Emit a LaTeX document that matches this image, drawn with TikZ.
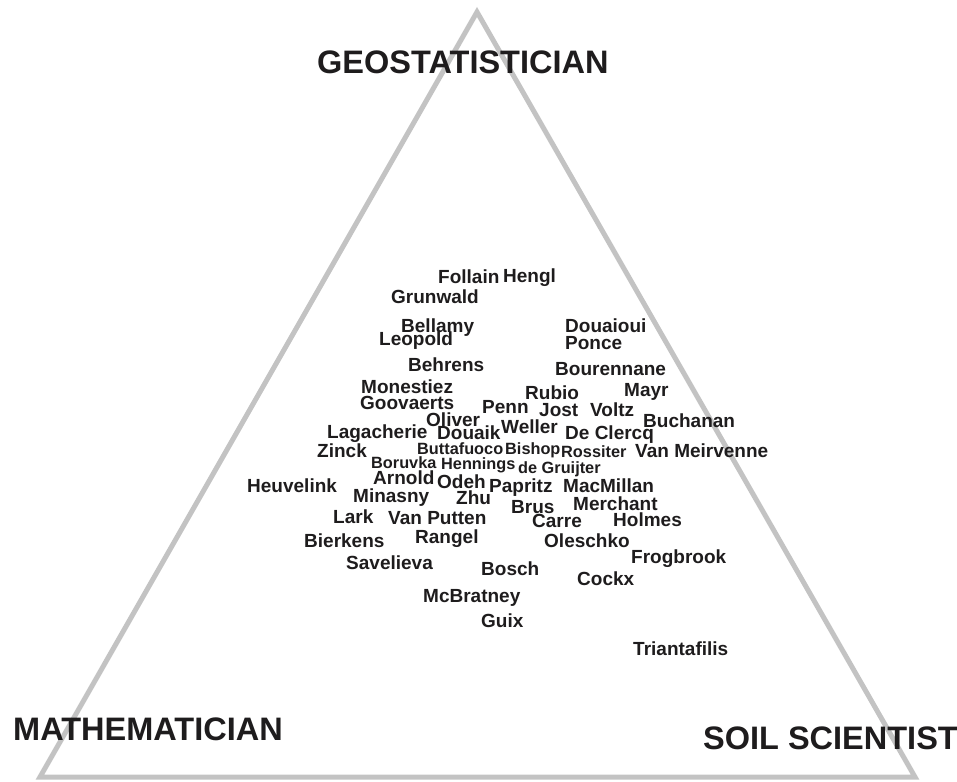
\documentclass[tikz,border=0pt]{standalone}
\usepackage{fontspec}
\usepackage{xcolor}
\usepackage{tikz}
\setmainfont{Liberation Sans}
\definecolor{frame}{HTML}{C3C3C3}
\definecolor{ink}{HTML}{1E1C1D}
\newcommand{\NameFont}{\fontsize{19}{22}\selectfont\bfseries}
\newcommand{\SmallNameFont}{\fontsize{16.3}{19}\selectfont\bfseries}
\newcommand{\TitleFont}{\fontsize{32.5}{38}\selectfont\bfseries}

\begin{document}
\begin{tikzpicture}[x=1pt,y=-1pt,
    scholar/.style={ink,anchor=base west,inner sep=0pt,font=\NameFont},
    minor/.style={scholar,font=\SmallNameFont},
    corner/.style={ink,anchor=base west,inner sep=0pt,font=\TitleFont}]
          \useasboundingbox (0,0) rectangle (957,781);
          \coordinate (apex) at (477,12);
          \coordinate (math) at (40,777);
          \coordinate (soil) at (915,777);
          \draw[frame,line width=5pt,line join=miter] (apex) -- (math) -- (soil) -- cycle;
          \node[corner] (geo) at (317,74) {GEOSTATISTICIAN};
          \node[corner] (mathlab) at (13,740) {MATHEMATICIAN};
          \node[corner] (soillab) at (703,749) {SOIL SCIENTIST};
          \foreach \who/\x/\y [count=\i] in {Follain/438/283,Hengl/503/282,Grunwald/391/303,
              Bellamy/401/332,Leopold/379/345,Douaioui/565/332,Ponce/565/349,
              Behrens/408/371,Bourennane/555/375,Monestiez/361/393,Rubio/525/399,
              Mayr/624/396,Goovaerts/360/409,Penn/482/413,Jost/539/416,Voltz/590/416,
              Oliver/426/426,Buchanan/643/427,Lagacherie/327/438,Douaik/437/439,
              Weller/501/433,{De Clercq}/565/439,Zinck/317/457,{Van Meirvenne}/635/457,
              Heuvelink/247/492,Arnold/373/484,Odeh/437/488,Papritz/489/492,
              MacMillan/563/492,Minasny/353/502,Zhu/456/504,Merchant/573/510,
              Brus/511/513,Lark/333/523,{Van Putten}/388/524,Carre/532/527,
              Holmes/613/526,Bierkens/304/547,Rangel/415/543,Oleschko/544/547,
              Frogbrook/631/563,Savelieva/346/569,Bosch/481/575,Cockx/577/585,
              McBratney/423/602,Guix/481/627,Triantafilis/633/655}
            \node[scholar] (s\i) at (\x,\y) {\who};
          \foreach \who/\x/\y [count=\i] in {Buttafuoco/417/454,Bishop/505/454,
              Rossiter/561/457,Boruvka/371/468,Hennings/441/469,{de Gruijter}/518/473}
            \node[minor] (m\i) at (\x,\y) {\who};
        \end{tikzpicture}
\end{document}
